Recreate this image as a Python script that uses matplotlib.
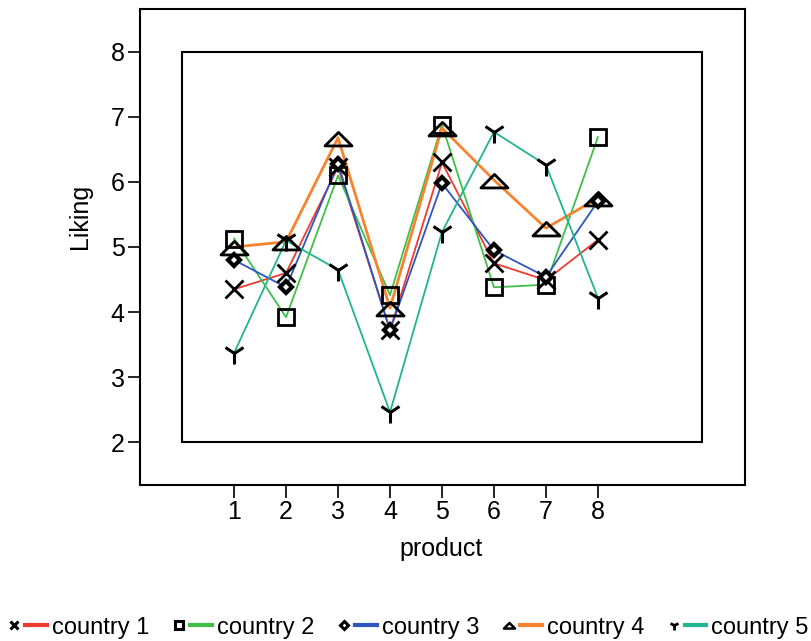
import matplotlib
matplotlib.use("Agg")
import matplotlib.pyplot as plt
from matplotlib.lines import Line2D
from matplotlib.patches import Rectangle
from matplotlib.path import Path
from matplotlib.legend_handler import HandlerTuple

plt.rcParams['font.family'] = ['Liberation Sans', 'DejaVu Sans']

products = [1, 2, 3, 4, 5, 6, 7, 8]
series_names = ["country 1", "country 2", "country 3", "country 4", "country 5"]
country1 = [4.35, 4.60, 6.23, 3.72, 6.30, 4.75, 4.49, 5.11]
country2 = [5.13, 3.92, 6.10, 4.26, 6.88, 4.38, 4.42, 6.69]
country3 = [4.80, 4.38, 6.28, 3.72, 5.98, 4.95, 4.54, 5.70]
country4 = [5.00, 5.08, 6.68, 4.06, 6.83, 6.03, 5.29, 5.75]
country5 = [3.37, 5.10, 4.65, 2.46, 5.23, 6.77, 6.26, 4.22]
y_ticks = [2, 3, 4, 5, 6, 7, 8]

colors = ["#ee3b2f", "#3fbf4a", "#2d56c0", "#f7832f", "#1fb58f"]
line_widths = [1.3, 1.3, 1.3, 2.0, 1.3]

tri = Path([(0, 0.45), (-1, -0.55), (1, -0.55), (0, 0.45)],
           [Path.MOVETO, Path.LINETO, Path.LINETO, Path.CLOSEPOLY])

marker_specs = [
    dict(marker='x', ms=13, mew=2.0, mec='black', mfc='none'),
    dict(marker='s', ms=11, mew=2.0, mec='black', mfc='none'),
    dict(marker='D', ms=6.5, mew=3.0, mec='black', mfc='white'),
    dict(marker=tri, ms=19.5, mew=2.0, mec='black', mfc='none'),
    dict(marker='1', ms=16, mew=2.2, mec='black', mfc='none'),
]
legend_marker_specs = [
    dict(marker='x', ms=6, mew=2.2, mec='black', mfc='none'),
    dict(marker='s', ms=5.5, mew=2.2, mec='black', mfc='white'),
    dict(marker='D', ms=4, mew=2.2, mec='black', mfc='white'),
    dict(marker=tri, ms=8, mew=1.8, mec='black', mfc='none'),
    dict(marker='1', ms=7, mew=2.0, mec='black', mfc='none'),
]

data = [country1, country2, country3, country4, country5]

fig = plt.figure(figsize=(8.12, 6.41), dpi=100)
ax = fig.add_axes([140 / 812, 1 - 485 / 641, 605 / 812, 476 / 641])

# inner frame
ax.add_patch(Rectangle((0, 2), 10, 6, fill=False, edgecolor='black', lw=1.5, zorder=1))

for vals, c, lw in zip(data, colors, line_widths):
    ax.plot(products, vals, color=c, lw=lw, zorder=2)
for vals, spec in zip(data, marker_specs):
    ax.plot(products, vals, ls='none', zorder=3, **spec)

ax.set_xlim(-0.81, 10.83)
ax.set_ylim(1.34, 8.66)
ax.set_xticks(products)
ax.set_yticks(y_ticks)
ax.tick_params(axis='both', direction='out', length=9, width=1.2, labelsize=18, pad=2, colors='black')
for s in ax.spines.values():
    s.set_linewidth(1.5)
    s.set_color('black')

ax.set_ylabel("Liking", fontsize=18)
ax.yaxis.set_label_coords(-0.079, 0.565)
ax.set_xlabel("product", fontsize=18)
ax.xaxis.set_label_coords(0.497, -0.109)

handles = []
for spec, c in zip(legend_marker_specs, colors):
    mh = Line2D([], [], ls='none', **spec)
    lh = Line2D([], [], color=c, lw=3)
    handles.append((mh, lh))

fig.legend(handles, series_names, loc='center', bbox_to_anchor=(0.5, 0.021), ncol=5,
           frameon=False, fontsize=17, handlelength=1.85, handletextpad=0.21,
           columnspacing=0.8, borderaxespad=0, borderpad=0,
           handler_map={tuple: HandlerTuple(ndivide=2, pad=0)})

fig.savefig("out.png", dpi=100, facecolor='white')
